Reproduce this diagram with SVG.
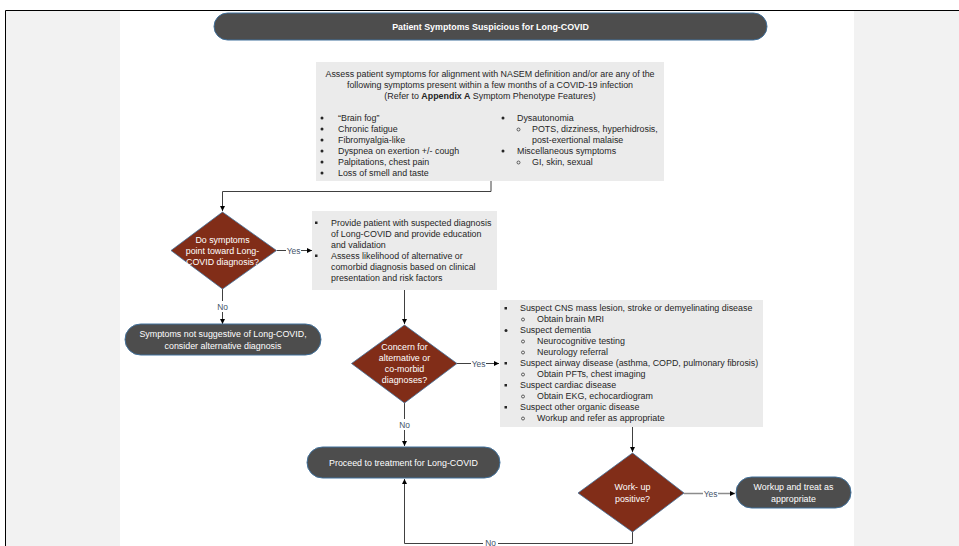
<svg xmlns="http://www.w3.org/2000/svg" width="959" height="546" viewBox="0 0 959 546">
  <style>
    .panel { fill: #f2f2f2; }
    .frame { stroke: #000; stroke-width: 1; fill: none; }
    .pill { fill: #4d4d4d; stroke: #41719c; stroke-width: 1; }
    .dia { fill: #812d18; stroke: #41719c; stroke-width: 0.8; }
    .box { fill: #ebebeb; }
    .t { font-family: "Liberation Sans", Arial, sans-serif; font-size: 8.9px; fill: #262626; }
    .w { font-family: "Liberation Sans", Arial, sans-serif; font-size: 8.9px; fill: #ffffff; text-anchor: middle; }
    .c { text-anchor: middle; }
    .lbl { font-family: "Liberation Sans", Arial, sans-serif; font-size: 8.4px; fill: #44546a; text-anchor: middle; }
    .edge { stroke: #404040; stroke-width: 1; fill: none; }
    .edge-grey { stroke: #8c8c8c; stroke-width: 1.3; fill: none; }
    .sq { fill: #262626; }
    .ring { fill: none; stroke: #262626; stroke-width: 0.7; }
  </style>
  <defs>
    <marker id="arrow" viewBox="0 0 10 10" refX="10" refY="5" markerWidth="5" markerHeight="5" orient="auto" markerUnits="userSpaceOnUse">
      <path d="M0,0 L10,5 L0,10 z" fill="#000"/>
    </marker>
  </defs>

  <!-- page background and margins -->
  <rect x="0" y="0" width="959" height="546" fill="#ffffff"/>
  <rect class="panel" x="6" y="11" width="114" height="535"/>
  <rect class="panel" x="854" y="11" width="105" height="535"/>
  <path class="frame" d="M5.5,546 V10.5 H959"/>

  <!-- connectors -->
  <g id="connectors">
    <path class="edge" d="M491,181 V191.5 H222.5 V211" marker-end="url(#arrow)"/>
    <path class="edge" d="M277,250.5 H312" marker-end="url(#arrow)"/>
    <path class="edge" d="M222.5,289 V324" marker-end="url(#arrow)"/>
    <path class="edge" d="M404.5,290 V324" marker-end="url(#arrow)"/>
    <path class="edge" d="M457,363.5 H499" marker-end="url(#arrow)"/>
    <path class="edge" d="M404.5,403 V446" marker-end="url(#arrow)"/>
    <path class="edge" d="M632.5,427 V452" marker-end="url(#arrow)"/>
    <path class="edge-grey" d="M684,493.5 H735" marker-end="url(#arrow)"/>
    <path class="edge" d="M632.5,532 V543.5 H404.5 V479" marker-end="url(#arrow)"/>
    <!-- edge labels -->
    <rect x="286" y="245" width="15" height="11" fill="#fff"/>
    <text class="lbl" x="293.5" y="253.5">Yes</text>
    <rect x="215" y="301" width="15" height="11" fill="#fff"/>
    <text class="lbl" x="222.5" y="309.5">No</text>
    <rect x="471" y="358" width="15" height="11" fill="#fff"/>
    <text class="lbl" x="478.5" y="366.5">Yes</text>
    <rect x="397" y="419" width="15" height="11" fill="#fff"/>
    <text class="lbl" x="404.5" y="427.5">No</text>
    <rect x="703" y="488" width="15" height="11" fill="#fff"/>
    <text class="lbl" x="710.5" y="496.5">Yes</text>
    <rect x="483" y="538" width="15" height="8" fill="#fff"/>
    <text class="lbl" x="490.5" y="545.5">No</text>
  </g>

  <!-- start -->
  <g id="start">
    <rect class="pill" x="214" y="13" width="553" height="27" rx="13.5"/>
    <text class="w" x="490.5" y="29.5" font-weight="bold" font-size="8.3px">Patient Symptoms Suspicious for Long-COVID</text>
  </g>

  <!-- symptom assessment -->
  <g id="assess">
    <rect class="box" x="316" y="62" width="348" height="119"/>
    <text class="t c" x="490" y="77">Assess patient symptoms for alignment with NASEM definition and/or are any of the</text>
    <text class="t c" x="490" y="88">following symptoms present within a few months of a COVID-19 infection</text>
    <text class="t c" x="490" y="99">(Refer to <tspan font-weight="bold">Appendix A</tspan> Symptom Phenotype Features)</text>
    <g>
      <circle class="sq" cx="322" cy="118" r="1.5"/>
      <circle class="sq" cx="322" cy="129" r="1.5"/>
      <circle class="sq" cx="322" cy="140" r="1.5"/>
      <circle class="sq" cx="322" cy="151" r="1.5"/>
      <circle class="sq" cx="322" cy="162" r="1.5"/>
      <circle class="sq" cx="322" cy="173" r="1.5"/>
      <text class="t" x="338" y="121">“Brain fog”</text>
      <text class="t" x="338" y="132">Chronic fatigue</text>
      <text class="t" x="338" y="143">Fibromyalgia-like</text>
      <text class="t" x="338" y="154">Dyspnea on exertion +/- cough</text>
      <text class="t" x="338" y="165">Palpitations, chest pain</text>
      <text class="t" x="338" y="176">Loss of smell and taste</text>
    </g>
    <g>
      <circle class="sq" cx="503" cy="118" r="1.5"/>
      <text class="t" x="517" y="121">Dysautonomia</text>
      <circle class="ring" cx="518.5" cy="129.5" r="1.5"/>
      <text class="t" x="532" y="132">POTS, dizziness, hyperhidrosis,</text>
      <text class="t" x="532" y="143">post-exertional malaise</text>
      <circle class="sq" cx="503" cy="151" r="1.5"/>
      <text class="t" x="517" y="154">Miscellaneous symptoms</text>
      <circle class="ring" cx="518.5" cy="162.5" r="1.5"/>
      <text class="t" x="532" y="165">GI, skin, sexual</text>
    </g>
  </g>

  <!-- decision: long-COVID -->
  <g id="decision-longcovid">
    <polygon class="dia" points="222.5,212 276.5,250.5 222.5,289 171,250.5"/>
    <text class="w" x="222.5" y="243">Do symptoms</text>
    <text class="w" x="222.5" y="254">point toward Long-</text>
    <text class="w" x="222.5" y="265">COVID diagnosis?</text>
  </g>

  <!-- education -->
  <g id="educate">
    <rect class="box" x="312" y="211" width="185" height="79"/>
    <rect class="sq" x="315" y="221.5" width="2.5" height="2.5"/>
    <rect class="sq" x="315" y="254.5" width="2.5" height="2.5"/>
    <text class="t" x="331" y="226">Provide patient with suspected diagnosis</text>
    <text class="t" x="331" y="237">of Long-COVID and provide education</text>
    <text class="t" x="331" y="248">and validation</text>
    <text class="t" x="331" y="259">Assess likelihood of alternative or</text>
    <text class="t" x="331" y="270">comorbid diagnosis based on clinical</text>
    <text class="t" x="331" y="281">presentation and risk factors</text>
  </g>

  <!-- not long-COVID -->
  <g id="not-longcovid">
    <rect class="pill" x="125" y="324" width="196" height="31" rx="15.5"/>
    <text class="w" x="223" y="337">Symptoms not suggestive of Long-COVID,</text>
    <text class="w" x="223" y="349">consider alternative diagnosis</text>
  </g>

  <!-- decision: alternative diagnoses -->
  <g id="decision-alternative">
    <polygon class="dia" points="404.5,325 457,363.5 404.5,403 351.5,363.5"/>
    <text class="w" x="404.5" y="350">Concern for</text>
    <text class="w" x="404.5" y="361">alternative or</text>
    <text class="w" x="404.5" y="372">co-morbid</text>
    <text class="w" x="404.5" y="383">diagnoses?</text>
  </g>

  <!-- alternative workup -->
  <g id="alternative-workup">
    <rect class="box" x="500" y="300" width="263" height="127"/>
    <rect class="sq" x="504.5" y="307" width="2.5" height="2.5"/>
    <text class="t" x="520" y="311">Suspect CNS mass lesion, stroke or demyelinating disease</text>
    <circle class="ring" cx="523" cy="319.5" r="1.5"/>
    <text class="t" x="537" y="322">Obtain brain MRI</text>
    <circle class="sq" cx="506" cy="330.5" r="1.5"/>
    <text class="t" x="520" y="333">Suspect dementia</text>
    <circle class="ring" cx="523" cy="341.5" r="1.5"/>
    <text class="t" x="537" y="344">Neurocognitive testing</text>
    <circle class="ring" cx="523" cy="352.5" r="1.5"/>
    <text class="t" x="537" y="355">Neurology referral</text>
    <rect class="sq" x="504.5" y="362" width="2.5" height="2.5"/>
    <text class="t" x="520" y="366">Suspect airway disease (asthma, COPD, pulmonary fibrosis)</text>
    <circle class="ring" cx="523" cy="374.5" r="1.5"/>
    <text class="t" x="537" y="377">Obtain PFTs, chest imaging</text>
    <rect class="sq" x="504.5" y="384" width="2.5" height="2.5"/>
    <text class="t" x="520" y="388">Suspect cardiac disease</text>
    <circle class="ring" cx="523" cy="396.5" r="1.5"/>
    <text class="t" x="537" y="399">Obtain EKG, echocardiogram</text>
    <rect class="sq" x="504.5" y="406" width="2.5" height="2.5"/>
    <text class="t" x="520" y="410">Suspect other organic disease</text>
    <circle class="ring" cx="523" cy="418.5" r="1.5"/>
    <text class="t" x="537" y="421">Workup and refer as appropriate</text>
  </g>

  <!-- treatment -->
  <g id="treatment">
    <rect class="pill" x="307" y="447" width="193" height="31" rx="15.5"/>
    <text class="w" x="403.5" y="466">Proceed to treatment for Long-COVID</text>
  </g>

  <!-- decision: workup -->
  <g id="decision-workup">
    <polygon class="dia" points="632.5,453 684,493 632.5,532 578,493"/>
    <text class="w" x="632.5" y="490">Work- up</text>
    <text class="w" x="632.5" y="502">positive?</text>
  </g>

  <!-- workup positive -->
  <g id="workup-treat">
    <rect class="pill" x="736" y="477" width="115" height="31" rx="15.5"/>
    <text class="w" x="793.5" y="490">Workup and treat as</text>
    <text class="w" x="793.5" y="502">appropriate</text>
  </g>
</svg>
